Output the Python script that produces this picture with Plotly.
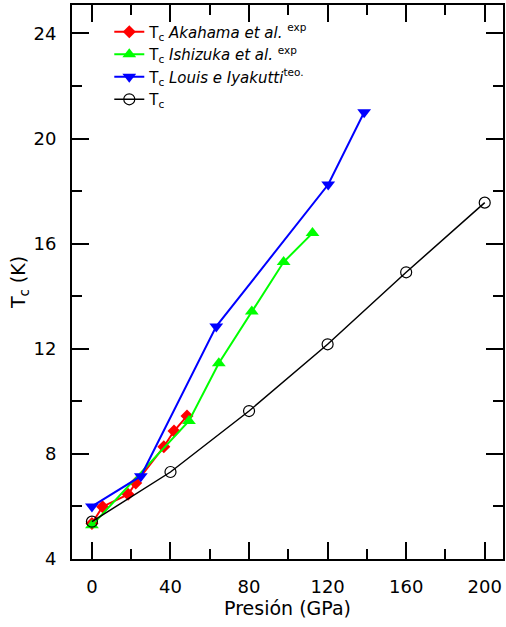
import plotly.graph_objects as go

# Data
p_akahama = [0, 5.4, 18.4, 22.3, 36.6, 41.8, 48.4]
tc_akahama = [5.35, 5.99, 6.46, 6.89, 8.27, 8.87, 9.44]

p_ishizuka = [0, 49.4, 64.6, 81.4, 97.6, 112.3]
tc_ishizuka = [5.28, 9.25, 11.45, 13.42, 15.3, 16.4]

p_louis = [0, 24.9, 63.3, 120.3, 138.6]
tc_louis = [6.0, 7.15, 12.85, 18.25, 21.0]

p_calc = [0, 40, 80, 120, 160, 200]
tc_calc = [5.42, 7.31, 9.63, 12.17, 14.91, 17.56]

x_ticks = [0, 40, 80, 120, 160, 200]
y_ticks = [4, 8, 12, 16, 20, 24]

FONT = "DejaVu Sans"

fig = go.Figure()
fig.add_trace(go.Scatter(
    x=p_akahama, y=tc_akahama, mode="lines+markers",
    name="T<sub>c</sub> <i>Akahama et al.</i> <sup>exp</sup>",
    line=dict(color="#ff0000", width=2),
    marker=dict(symbol="diamond", size=10, color="#ff0000")))
fig.add_trace(go.Scatter(
    x=p_ishizuka, y=tc_ishizuka, mode="lines+markers",
    name="T<sub>c</sub> <i>Ishizuka et al.</i> <sup>exp</sup>",
    line=dict(color="#00ff00", width=2),
    marker=dict(symbol="triangle-up", size=12, color="#00ff00")))
fig.add_trace(go.Scatter(
    x=p_louis, y=tc_louis, mode="lines+markers",
    name="T<sub>c</sub> <i>Louis e Iyakutti</i><sup>teo.</sup>",
    line=dict(color="#0000ff", width=2),
    marker=dict(symbol="triangle-down", size=12, color="#0000ff")))
fig.add_trace(go.Scatter(
    x=p_calc, y=tc_calc, mode="lines+markers",
    name="T<sub>c</sub>",
    line=dict(color="#000000", width=1.5),
    marker=dict(symbol="circle-open", size=11, color="#000000",
                line=dict(width=1.2, color="#000000"))))

axis_common = dict(
    showgrid=False, zeroline=False, showline=True, linecolor="black",
    linewidth=2, mirror="allticks", ticks="inside", tickcolor="black",
    tickwidth=2, ticklen=17,
    tickfont=dict(family=FONT, size=18, color="black"),
)

fig.update_xaxes(
    **axis_common, range=[-10.15, 209.3], tickvals=x_ticks,
    minor=dict(dtick=20, tick0=0, ticks="inside", ticklen=10,
               tickwidth=2, tickcolor="black"),
    ticklabelstandoff=10,
    title=dict(text="Presión (GPa)", font=dict(family=FONT, size=19, color="black"),
               standoff=4),
)
fig.update_yaxes(
    **axis_common, range=[4, 25.08], tickvals=y_ticks,
    minor=dict(dtick=2, tick0=0, ticks="inside", ticklen=10,
               tickwidth=2, tickcolor="black"),
    ticklabelstandoff=10,
    title=dict(text="T<sub>c</sub> (K)", font=dict(family=FONT, size=19, color="black"),
               standoff=3),
)

fig.update_layout(
    width=506, height=627,
    margin=dict(l=72, r=1, t=5, b=68),
    plot_bgcolor="white", paper_bgcolor="white",
    font=dict(family=FONT, color="black"),
    legend=dict(x=0.0865, y=0.981, xanchor="left", yanchor="top",
                bgcolor="rgba(0,0,0,0)", borderwidth=0,
                font=dict(family=FONT, size=15, color="black"),
                tracegroupgap=0),
)

fig.write_html("out.html")
